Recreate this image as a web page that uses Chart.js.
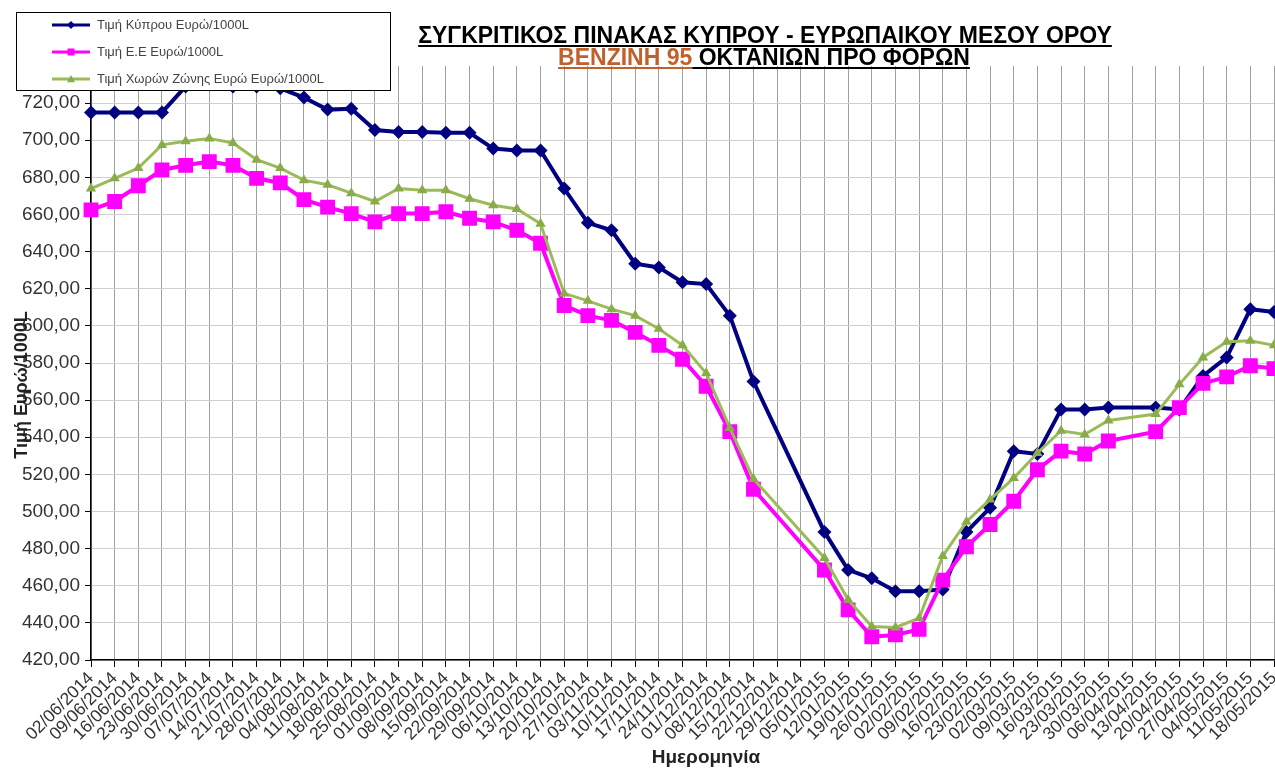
<!DOCTYPE html>
<html>
<head>
<meta charset="utf-8">
<script src="https://cdn.jsdelivr.net/npm/chart.js@4/dist/chart.umd.min.js"></script>
<style>
html, body { margin: 0; padding: 0; background: #fff; }
</style>
</head>
<body>
<canvas id="fuelChart" width="1275" height="772"></canvas>
<script>
// weekly dates (x axis)
var dates = [
	"02/06/2014","09/06/2014","16/06/2014","23/06/2014","30/06/2014","07/07/2014","14/07/2014",
	"21/07/2014","28/07/2014","04/08/2014","11/08/2014","18/08/2014","25/08/2014","01/09/2014",
	"08/09/2014","15/09/2014","22/09/2014","29/09/2014","06/10/2014","13/10/2014","20/10/2014",
	"27/10/2014","03/11/2014","10/11/2014","17/11/2014","24/11/2014","01/12/2014","08/12/2014",
	"15/12/2014","22/12/2014","29/12/2014","05/01/2015","12/01/2015","19/01/2015","26/01/2015",
	"02/02/2015","09/02/2015","16/02/2015","23/02/2015","02/03/2015","09/03/2015","16/03/2015",
	"23/03/2015","30/03/2015","06/04/2015","13/04/2015","20/04/2015","27/04/2015","04/05/2015",
	"11/05/2015","18/05/2015"
];

// prices, euro / 1000L (null = no value that week)
var cyprus = [
	715, 715, 715, 715, 729, 730, 729, 729, 728, 723,
	716.5, 717, 705.5, 704.5, 704.5, 704, 704, 695.5, 694.5, 694.5,
	674, 655.5, 651.5, 633.5, 631.5, 623.5, 622.5, 605.5, 570, null,
	null, 489, 468.5, 464, 457, 457, 458, 489, 502, 532.5,
	531, 555, 555, 556, null, 556, 555, 573, 583, 609,
	607.5
];
var eu = [
	662.5, 667, 675.5, 684, 686.5, 688.5, 686.5, 679.5, 677, 668,
	664, 660.5, 656, 660.5, 660.5, 661.5, 658, 656, 651.5, 644.5,
	611, 605.5, 603, 596.5, 589.5, 582, 567.5, 543, 512, null,
	null, 468.5, 447, 432.5, 433.5, 436.5, 463, 481, 493, 505.5,
	522.5, 532.5, 531, 538, null, 543, 556, 569, 572.5, 578.5,
	577
];
var euroZone = [
	674, 679.5, 685, 697.5, 699.5, 701, 698.5, 689.5, 685, 678.5,
	676, 671.5, 667, 674, 673, 673, 668.5, 665, 663, 655,
	617.5, 613.5, 609, 605.5, 598.5, 589.5, 574.5, 545, 517.5, null,
	null, 475, 452.5, 438, 437.5, 442.5, 476, 494.5, 506.5, 518,
	531.5, 543.5, 541.5, 549, null, 552.5, 568.5, 583, 591.5, 592,
	589.5
];

var seriesNames = ["Τιμή Κύπρου Ευρώ/1000L", "Τιμή Ε.Ε Ευρώ/1000L", "Τιμή Χωρών Ζώνης Ευρώ Ευρώ/1000L"];
var seriesColors = ["#000080", "#ff00ff", "#9bbb59"];
var yMin = 420, yMax = 740, yStep = 20;

var titleLine1 = "ΣΥΓΚΡΙΤΙΚΟΣ ΠΙΝΑΚΑΣ ΚΥΠΡΟΥ - ΕΥΡΩΠΑΙΚΟΥ ΜΕΣΟΥ ΟΡΟΥ";
var titleFuel = "ΒΕΝΖΙΝΗ 95";
var titleRest = " ΟΚΤΑΝΙΩΝ ΠΡΟ ΦΟΡΩΝ";
var xTitle = "Ημερομηνία";
var yTitle = "Τιμή Ευρώ/1000L";


function marker(ctx, style, x, y, r, color)
{
	ctx.fillStyle = color;
	ctx.beginPath();
	if (style == "rectRot") {
		ctx.moveTo(x, y - r); ctx.lineTo(x + r, y); ctx.lineTo(x, y + r); ctx.lineTo(x - r, y);
	} else if (style == "rect") {
		ctx.rect(x - r, y - r, 2 * r, 2 * r);
	} else {
		ctx.moveTo(x, y - r); ctx.lineTo(x + r, y + r * 0.8); ctx.lineTo(x - r, y + r * 0.8);
	}
	ctx.closePath();
	ctx.fill();
}

// title, axis titles and legend box drawn on top of the plot
var overlay = {
	id: "overlay",
	afterDraw: function(chart)
	{
		var ctx = chart.ctx;
		ctx.save();

		// title
		ctx.textBaseline = "alphabetic";
		ctx.textAlign = "left";
		ctx.font = "bold 23px Arial, 'Liberation Sans'";
		var w1 = ctx.measureText(titleLine1).width;
		var x1 = 765 - w1 / 2;
		ctx.fillStyle = "#000";
		ctx.fillText(titleLine1, x1, 43);
		ctx.fillRect(x1, 45, w1, 2);

		var wa = ctx.measureText(titleFuel).width;
		var wb = ctx.measureText(titleRest).width;
		var x2 = 764 - (wa + wb) / 2;
		ctx.fillStyle = "#c0602a";
		ctx.fillText(titleFuel, x2, 65);
		ctx.fillRect(x2, 67, wa, 2);
		ctx.fillStyle = "#000";
		ctx.fillText(titleRest, x2 + wa, 65);
		ctx.fillRect(x2 + wa, 67, wb, 2);

		// axis titles
		ctx.fillStyle = "#222";
		ctx.textAlign = "center";
		ctx.textBaseline = "middle";
		ctx.font = "bold 19px Arial, 'Liberation Sans'";
		ctx.fillText(xTitle, 706, 758);
		ctx.save();
		ctx.translate(22, 385);
		ctx.rotate(-Math.PI / 2);
		ctx.font = "bold 18px Arial, 'Liberation Sans'";
		ctx.fillText(yTitle, 0, 0);
		ctx.restore();

		// legend
		ctx.textAlign = "left";
		ctx.fillStyle = "#fff";
		ctx.fillRect(16, 12, 374, 78);
		ctx.strokeStyle = "#000";
		ctx.lineWidth = 1;
		ctx.strokeRect(16.5, 12.5, 374, 78);

		var rows = [25, 52, 79];
		var styles = ["rectRot", "rect", "triangle"];
		var sizes = [4, 3.5, 4];
		ctx.font = "13px Arial, 'Liberation Sans'";
		for (var i = 0; i < 3; i++) {
			ctx.strokeStyle = seriesColors[i];
			ctx.lineWidth = 3;
			ctx.beginPath();
			ctx.moveTo(52, rows[i]);
			ctx.lineTo(90, rows[i]);
			ctx.stroke();
			marker(ctx, styles[i], 71, rows[i], sizes[i], i == 2 ? "#8aab4a" : seriesColors[i]);
			ctx.fillStyle = "#444";
			ctx.fillText(seriesNames[i], 97, rows[i]);
		}
		ctx.restore();
	}
};


function draw()
{
	var fuelChart = new Chart("fuelChart",
	{
		type: "line",
		data:
		{
			labels: dates,
			datasets:
			[{
				label: seriesNames[0],
				data: cyprus,
				borderColor: seriesColors[0],
				backgroundColor: seriesColors[0],
				borderWidth: 4,
				pointStyle: "rectRot",
				pointRadius: 7,
				pointBorderWidth: 0,
				spanGaps: true,
				order: 2
			},
			{
				label: seriesNames[1],
				data: eu,
				borderColor: seriesColors[1],
				backgroundColor: seriesColors[1],
				borderWidth: 4,
				pointStyle: "rect",
				pointRadius: 10.5,
				pointBorderWidth: 0,
				spanGaps: true,
				order: 1
			},
			{
				label: seriesNames[2],
				data: euroZone,
				borderColor: seriesColors[2],
				backgroundColor: "#8aab4a",
				borderWidth: 3,
				pointStyle: "triangle",
				pointRadius: 6,
				pointBorderWidth: 0,
				spanGaps: true,
				order: 0
			}]
		},
		options:
		{
			responsive: false,
			animation: false,
			layout: { autoPadding: false, padding: { top: 66, right: 1, bottom: 0, left: 0 } },
			plugins:
			{
				legend: { display: false },
				tooltip: { enabled: false }
			},
			scales:
			{
				x:
				{
					offset: false,
					grid: { color: "#a0a0a0", tickColor: "#000", tickLength: 7 },
					border: { color: "#000", width: 1.5 },
					ticks:
					{
						autoSkip: false,
						minRotation: 45,
						maxRotation: 45,
						color: "#333",
						padding: 1,
						font: { family: "Arial, 'Liberation Sans'", size: 17.5 }
					},
					afterFit: function(s) { s.height = 112; s.paddingRight = 0; }
				},
				y:
				{
					min: yMin,
					max: yMax,
					grid:
					{
						color: function(c) { return c.tick && c.tick.value == yMax ? "rgba(0,0,0,0)" : "#d0d0d0"; },
						tickColor: "#000",
						tickLength: 6
					},
					border: { color: "#000", width: 1.5 },
					ticks:
					{
						stepSize: yStep,
						color: "#333",
						padding: 5,
						font: { family: "Arial, 'Liberation Sans'", size: 19 },
						callback: function(v) { return v.toFixed(2).replace(".", ","); }
					},
					afterFit: function(s) { s.width = 91; }
				}
			}
		},
		plugins: [overlay]
	});
}

draw();
</script>
</body>
</html>
